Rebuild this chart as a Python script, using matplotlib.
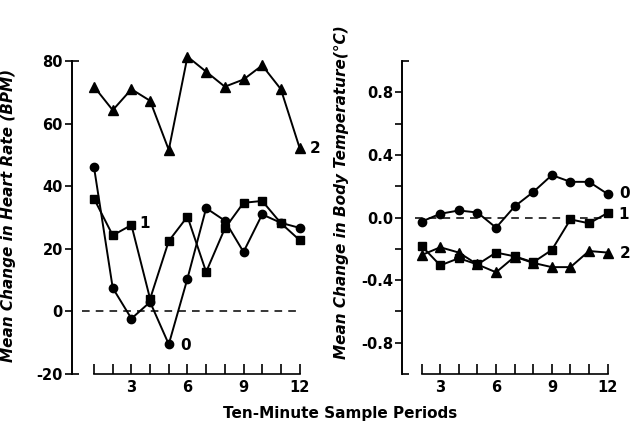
import numpy as np
import matplotlib
matplotlib.use("Agg")
import matplotlib.pyplot as plt

# 10分ごとの測定期間
periods_hr = np.arange(1, 13)
periods_bt = np.arange(2, 13)

# 心拍数の平均変化 (BPM)
hr_0 = [46, 7.5, -2.3, 3, -10.5, 10.5, 33, 29, 19, 31, 28.3, 26.7]
hr_1 = [36, 24.3, 27.6, 4, 22.5, 30.3, 12.6, 26.5, 34.7, 35.3, 28.2, 22.8]
hr_2 = [71.8, 64.3, 71, 67.3, 51.6, 81.4, 76.6, 71.8, 74.1, 78.6, 71, 52.3]

# 体温の平均変化 (°C)
bt_0 = [-0.026, 0.024, 0.045, 0.032, -0.065, 0.071, 0.163, 0.271, 0.228, 0.228, 0.15]
bt_1 = [-0.182, -0.306, -0.26, -0.30, -0.224, -0.248, -0.286, -0.207, -0.012, -0.037, 0.029]
bt_2 = [-0.24, -0.19, -0.224, -0.30, -0.35, -0.25, -0.29, -0.317, -0.317, -0.214, -0.224]

group_labels = ["0", "1", "2"]

plt.rcParams["font.family"] = "DejaVu Sans"
plt.rcParams["font.weight"] = "bold"
plt.rcParams["axes.unicode_minus"] = False

fig = plt.figure(figsize=(6.3, 4.22), dpi=100)
ax1 = fig.add_axes([0.1143, 0.1137, 0.376, 0.7417])
ax2 = fig.add_axes([0.638, 0.1137, 0.3413, 0.7417])

line_kw = dict(color="black", linewidth=1.4, clip_on=False)
label_kw = dict(fontsize=11, fontweight="bold", fontstyle="italic")


def style_axes(ax, x_first):
    ax.spines["top"].set_visible(False)
    ax.spines["right"].set_visible(False)
    ax.spines["left"].set_linewidth(1.2)
    ax.spines["bottom"].set_linewidth(1.2)
    ax.spines["bottom"].set_bounds(x_first, 12)
    xt = list(range(x_first, 13))
    ax.set_xticks(xt)
    ax.set_xticklabels([str(v) if v % 3 == 0 else "" for v in xt])
    ax.tick_params(axis="x", direction="in", length=7, width=1.2, pad=4,
                   labelsize=10.5)
    ax.tick_params(axis="y", which="both", direction="out", length=5,
                   width=1.2, labelsize=10.5, pad=1.5)
    for lab in ax.get_xticklabels() + ax.get_yticklabels():
        lab.set_fontweight("bold")


# 左: 心拍数
ax1.plot(periods_hr, hr_2, marker="^", markersize=7.5, **line_kw)
ax1.plot(periods_hr, hr_1, marker="s", markersize=6, **line_kw)
ax1.plot(periods_hr, hr_0, marker="o", markersize=6, **line_kw)
ax1.hlines(0, 0.35, 12, colors="black", linestyles=(0, (5, 4)), linewidth=1.1)
ax1.set_xlim(-0.18, 12.5)
ax1.set_ylim(-20, 80)
ax1.spines["left"].set_bounds(-20, 80)
ax1.set_yticks([-20, 0, 20, 40, 60, 80])
style_axes(ax1, 1)
sec1 = ax1.secondary_yaxis("left")
sec1.set_yticks([-20, 80])
sec1.set_yticklabels(["", ""])
sec1.tick_params(direction="in", length=5, width=1.2)
sec1.spines["left"].set_linewidth(1.2)

ax1.annotate(group_labels[2], (periods_hr[-1], hr_2[-1]), xytext=(7, -4),
             textcoords="offset points", fontsize=11, fontweight="bold")
ax1.annotate(group_labels[1], (periods_hr[2], hr_1[2]), xytext=(6, -2),
             textcoords="offset points", fontsize=11, fontweight="bold")
ax1.annotate(group_labels[0], (periods_hr[4], hr_0[4]), xytext=(8, -4),
             textcoords="offset points", fontsize=11, fontweight="bold")
ax1.set_ylabel("Mean Change in Heart Rate (BPM)", **label_kw)
ax1.yaxis.set_label_coords(-0.235, 0.508)

# 右: 体温
ax2.plot(periods_bt, bt_0, marker="o", markersize=6, **line_kw)
ax2.plot(periods_bt, bt_1, marker="s", markersize=6, **line_kw)
ax2.plot(periods_bt, bt_2, marker="^", markersize=7.5, **line_kw)
ax2.hlines(0, 1.64, 11.9, colors="black", linestyles=(0, (5, 4)), linewidth=1.1)
ax2.set_xlim(0.94, 12.5)
ax2.set_ylim(-1.0, 1.0)
ax2.spines["left"].set_bounds(-1.0, 1.0)
ax2.set_yticks([-0.8, -0.4, 0.0, 0.4, 0.8])
ax2.set_yticklabels(["-0.8", "-0.4", "0.0", "0.4", "0.8"])
ax2.set_yticks([-0.6, -0.2, 0.2, 0.6], minor=True)
style_axes(ax2, 2)
sec2 = ax2.secondary_yaxis("left")
sec2.set_yticks([-1.0, 1.0])
sec2.set_yticklabels(["", ""])
sec2.tick_params(direction="in", length=5, width=1.2)
sec2.spines["left"].set_linewidth(1.2)

ax2.annotate(group_labels[0], (periods_bt[-1], bt_0[-1]), xytext=(8, -3),
             textcoords="offset points", fontsize=11, fontweight="bold")
ax2.annotate(group_labels[1], (periods_bt[-1], bt_1[-1]), xytext=(8, -4),
             textcoords="offset points", fontsize=11, fontweight="bold")
ax2.annotate(group_labels[2], (periods_bt[-1], bt_2[-1]), xytext=(9, -4),
             textcoords="offset points", fontsize=11, fontweight="bold")
ax2.set_ylabel("Mean Change in Body Temperature(°C)", **label_kw)
ax2.yaxis.set_label_coords(-0.245, 0.58)

fig.text(0.54, 0.021, "Ten-Minute Sample Periods", ha="center", va="center",
         fontsize=11, fontweight="bold")

fig.savefig("out.png", dpi=100)
